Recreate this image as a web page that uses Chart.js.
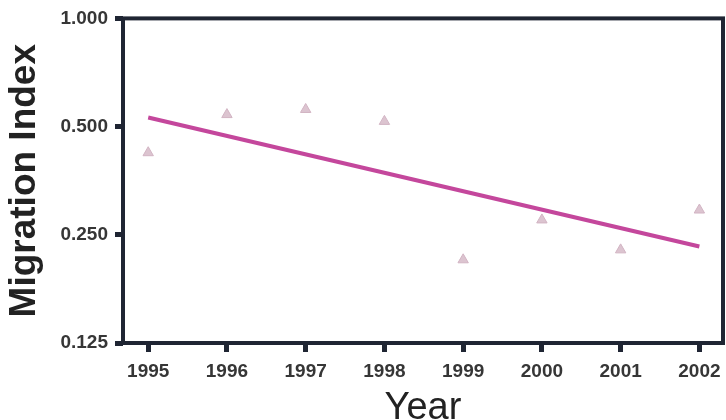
<!DOCTYPE html>
<html>
<head>
<meta charset="utf-8">
<script src="https://cdn.jsdelivr.net/npm/chart.js@4.4.1/dist/chart.umd.min.js"></script>
<style>
  html, body { margin: 0; padding: 0; background: #fff; }
  #wrap { width: 726px; height: 420px; position: relative; }
</style>
</head>
<body>
<div id="wrap"><canvas id="chart"></canvas></div>
<script>
const years = [1995, 1996, 1997, 1998, 1999, 2000, 2001, 2002];
const migrationIndex = [0.423, 0.54, 0.558, 0.517, 0.213, 0.275, 0.227, 0.293];
const trendYears = [1995, 2002];
const trendValues = [0.53, 0.232];
const yTicks = [0.125, 0.25, 0.5, 1];

const axisColor = "#1f2533";
const textColor = "#363636";

// frame round the plot area
const framePlugin = {
  id: "frame",
  afterDraw(chart) {
    const { ctx, chartArea: a } = chart;
    ctx.save();
    ctx.strokeStyle = axisColor;
    ctx.lineWidth = 4;
    ctx.strokeRect(a.left, a.top, a.right - a.left, a.bottom - a.top);
    ctx.restore();
  },
};

new Chart(document.getElementById("chart"), {
  type: "scatter",
  data: {
    datasets: [
      {
        data: years.map((y, i) => ({ x: y, y: migrationIndex[i] })),
        pointStyle: "triangle",
        pointRadius: 6,
        backgroundColor: "#dcc4d0",
        borderColor: "#d2b4c3",
        borderWidth: 1,
      },
      {
        type: "line",
        data: trendYears.map((y, i) => ({ x: y, y: trendValues[i] })),
        borderColor: "#c4479c",
        borderWidth: 4,
        pointRadius: 0,
        fill: false,
      },
    ],
  },
  options: {
    responsive: true,
    maintainAspectRatio: false,
    animation: false,
    layout: { autoPadding: false, padding: { top: 18, right: 3, left: 0, bottom: 0 } },
    plugins: { legend: { display: false }, tooltip: { enabled: false } },
    scales: {
      x: {
        type: "linear",
        min: 1994.68,
        max: 2002.3,
        afterBuildTicks: (axis) => {
          axis.ticks = years.map((v) => ({ value: v }));
        },
        afterFit: (axis) => {
          axis.height = 77;
          axis.paddingLeft = 0;
          axis.paddingRight = 0;
        },
        grid: {
          drawOnChartArea: false,
          drawTicks: true,
          tickLength: 9,
          tickWidth: 5,
          tickColor: axisColor,
        },
        border: { display: false },
        ticks: {
          color: textColor,
          font: { family: "Liberation Sans, Arial", size: 19, weight: "bold" },
          padding: 8,
          maxRotation: 0,
          callback: (v) => String(v),
        },
        title: {
          display: true,
          text: "Year",
          color: "#222",
          font: { family: "Liberation Sans, Arial", size: 38, lineHeight: 0.6 },
          padding: { top: 0, bottom: 0 },
        },
      },
      y: {
        type: "logarithmic",
        min: 0.125,
        max: 1,
        afterBuildTicks: (axis) => {
          axis.ticks = yTicks.map((v) => ({ value: v }));
        },
        afterFit: (axis) => { axis.width = 123; },
        grid: {
          drawOnChartArea: false,
          drawTicks: true,
          tickLength: 8,
          tickWidth: 5,
          tickColor: axisColor,
        },
        border: { display: false },
        ticks: {
          color: textColor,
          font: { family: "Liberation Sans, Arial", size: 19, weight: "bold" },
          padding: 7,
          callback: (v) => Number(v).toFixed(3),
        },
        title: {
          display: true,
          text: "Migration Index",
          color: "#222",
          font: { family: "Liberation Sans, Arial", size: 37, weight: "bold" },
          padding: { top: 3, bottom: 0 },
        },
      },
    },
  },
  plugins: [framePlugin],
});
</script>
</body>
</html>
